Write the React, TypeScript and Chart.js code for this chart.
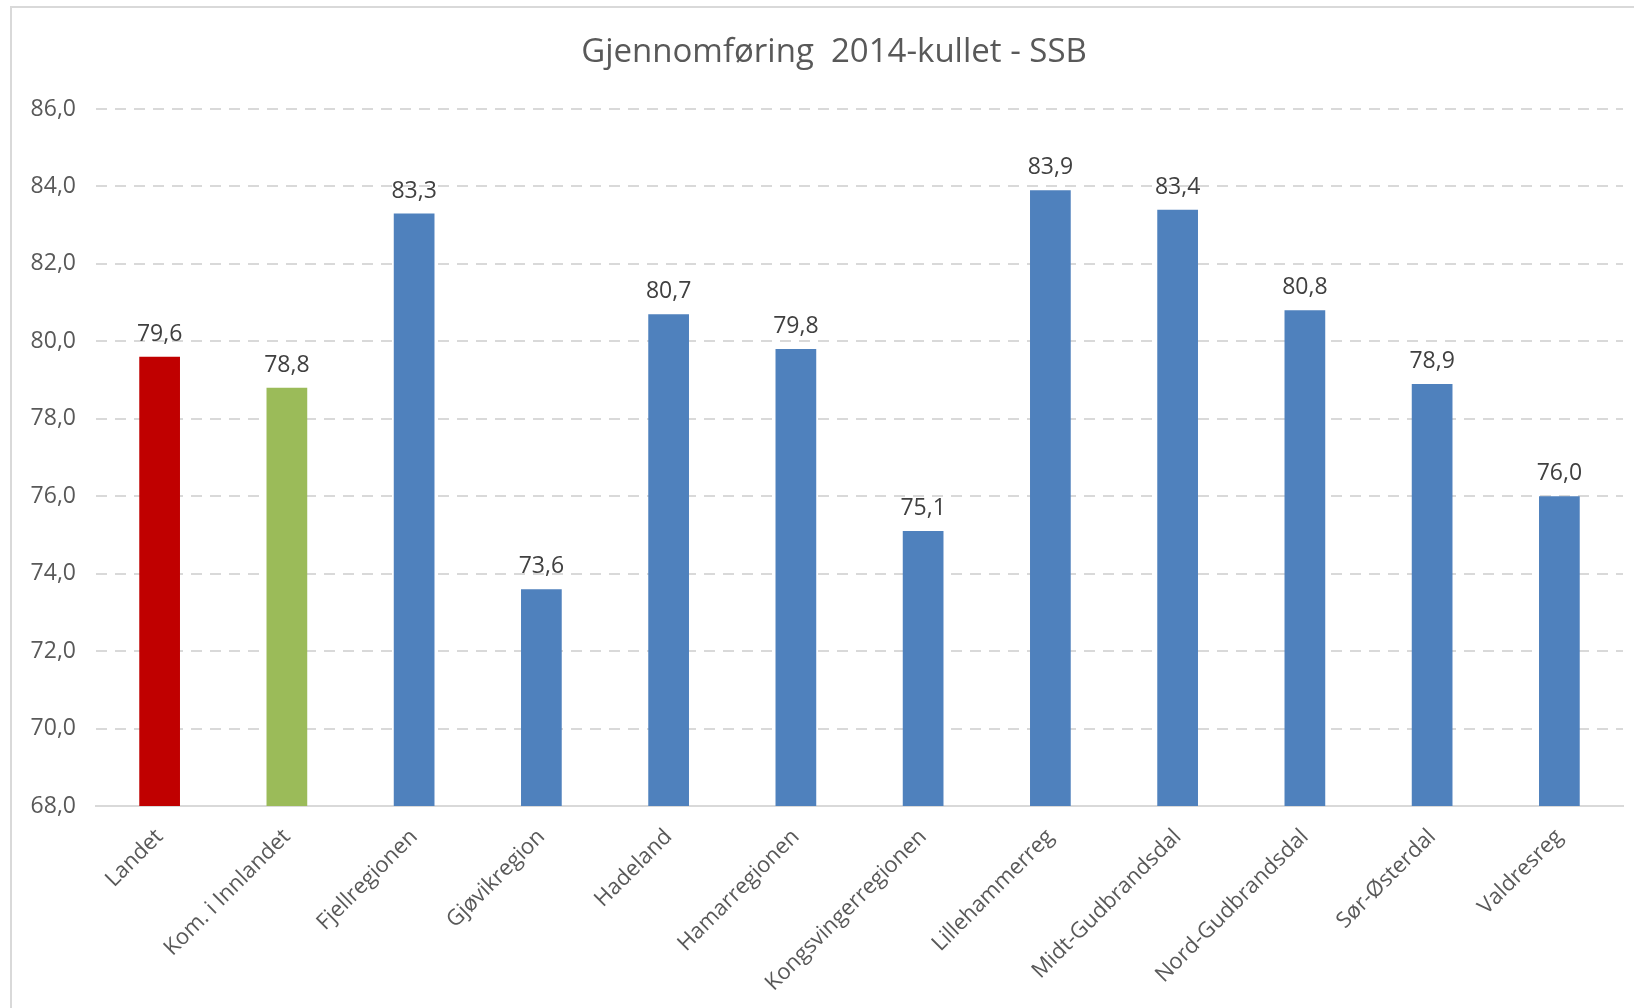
import React, { useEffect, useRef } from "react";
import { Chart, registerables } from "chart.js";

Chart.register(...registerables);

const TITLE = "Gjennomføring  2014-kullet - SSB";
const categories = [
  "Landet",
  "Kom. i Innlandet",
  "Fjellregionen",
  "Gjøvikregion",
  "Hadeland",
  "Hamarregionen",
  "Kongsvingerregionen",
  "Lillehammerreg",
  "Midt-Gudbrandsdal",
  "Nord-Gudbrandsdal",
  "Sør-Østerdal",
  "Valdresreg",
];
const values = [79.6, 78.8, 83.3, 73.6, 80.7, 79.8, 75.1, 83.9, 83.4, 80.8, 78.9, 76.0];
const barColors = [
  "#C00000",
  "#9BBB59",
  "#4F81BD",
  "#4F81BD",
  "#4F81BD",
  "#4F81BD",
  "#4F81BD",
  "#4F81BD",
  "#4F81BD",
  "#4F81BD",
  "#4F81BD",
  "#4F81BD",
];
const yMin = 68;
const yMax = 86;
const yStep = 2;

const FONT = "'Open Sans', 'DejaVu Sans', sans-serif";
const fmt = (v: number) => v.toFixed(1).replace(".", ",");

const decorPlugin = {
  id: "decor",
  beforeDraw(chart: any) {
    const ctx = chart.ctx;
    ctx.save();
    ctx.fillStyle = "#ffffff";
    ctx.fillRect(0, 0, chart.width, chart.height);
    ctx.strokeStyle = "#d9d9d9";
    ctx.lineWidth = 2;
    ctx.beginPath();
    ctx.moveTo(11, chart.height);
    ctx.lineTo(11, 7);
    ctx.lineTo(chart.width, 7);
    ctx.stroke();
    ctx.fillStyle = "#595959";
    ctx.font = `33px ${FONT}`;
    ctx.textAlign = "center";
    ctx.textBaseline = "middle";
    ctx.fillText(TITLE, 834, 53);
    ctx.restore();
  },
  afterDatasetsDraw(chart: any) {
    const ctx = chart.ctx;
    const meta = chart.getDatasetMeta(0);
    ctx.save();
    ctx.fillStyle = "#404040";
    ctx.font = `23px ${FONT}`;
    ctx.textAlign = "center";
    ctx.textBaseline = "bottom";
    meta.data.forEach((bar: any, i: number) => {
      ctx.fillText(fmt(values[i]), bar.x, bar.y - 11);
    });
    ctx.restore();
  },
};

export default function App() {
  const ref = useRef<HTMLCanvasElement | null>(null);
  useEffect(() => {
    document.body.style.margin = "0";
    const chart = new Chart(ref.current as HTMLCanvasElement, {
      type: "bar",
      data: {
        labels: categories,
        datasets: [
          {
            data: values,
            backgroundColor: barColors,
            borderWidth: 0,
            barPercentage: 0.32,
            categoryPercentage: 1,
          },
        ],
      },
      options: {
        responsive: false,
        animation: false,
        layout: { padding: { top: 109, right: 11, left: 0, bottom: 0 } },
        plugins: {
          legend: { display: false },
          title: { display: false },
          tooltip: { enabled: false },
        },
        scales: {
          x: {
            afterFit(scale: any) {
              scale.height = 202;
            },
            grid: { display: false, drawTicks: false },
            border: { display: true, color: "#d9d9d9", width: 2 },
            ticks: {
              color: "#595959",
              font: { family: FONT, size: 22 },
              maxRotation: 45,
              minRotation: 45,
              padding: 18,
              autoSkip: false,
            },
          },
          y: {
            min: yMin,
            max: yMax,
            afterFit(scale: any) {
              scale.width = 96;
            },
            grid: {
              color: "#d9d9d9",
              lineWidth: 2,
              drawTicks: false,
            },
            border: { display: false, dash: [11, 8] },
            ticks: {
              stepSize: yStep,
              color: "#595959",
              font: { family: FONT, size: 23 },
              padding: 20,
              callback: (v: any) => fmt(Number(v)),
            },
          },
        },
      },
      plugins: [decorPlugin],
    });
    return () => chart.destroy();
  }, []);
  return (
    <canvas
      ref={ref}
      width={1634}
      height={1008}
      style={{ display: "block", width: 1634, height: 1008 }}
    />
  );
}
